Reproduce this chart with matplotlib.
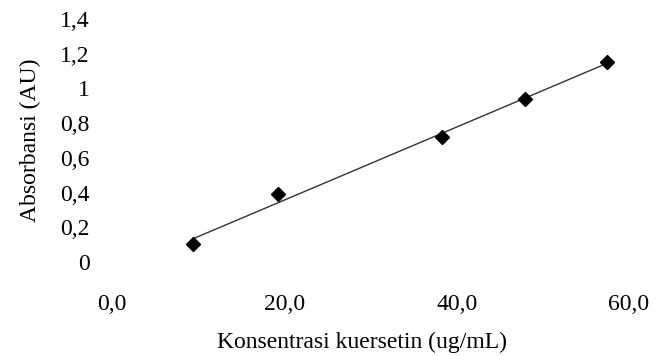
import numpy as np
import matplotlib
matplotlib.use("Agg")
import matplotlib.pyplot as plt

# Data
konsentrasi = [9.4, 19.3, 38.3, 47.9, 57.5]  # ug/mL
absorbansi = [0.105, 0.39, 0.72, 0.94, 1.152]  # AU

x_ticks = [0, 20, 40, 60]
x_tick_labels = ["0,0", "20,0", "40,0", "60,0"]
y_ticks = [0, 0.2, 0.4, 0.6, 0.8, 1.0, 1.2, 1.4]
y_tick_labels = ["0", "0,2", "0,4", "0,6", "0,8", "1", "1,2", "1,4"]

plt.rcParams["font.family"] = ["Liberation Serif", "DejaVu Serif"]

fig = plt.figure(figsize=(6.56, 3.56), dpi=100)
ax = fig.add_axes([112 / 656, 1 - 262 / 356, 517 / 656, 243 / 356])

# Linear trendline over the data range
slope, intercept = np.polyfit(konsentrasi, absorbansi, 1)
x_fit = np.array([min(konsentrasi), max(konsentrasi)])
ax.plot(x_fit, slope * x_fit + intercept, color="#333333", linewidth=1.0, zorder=2)

ax.plot(konsentrasi, absorbansi, linestyle="none", marker="D", markersize=7.5,
        color="black", zorder=3, clip_on=False)

ax.set_xlim(0, 60)
ax.set_ylim(0, 1.4)
ax.set_xticks(x_ticks)
ax.set_xticklabels(x_tick_labels)
ax.set_yticks(y_ticks)
ax.set_yticklabels(y_tick_labels)
ax.tick_params(axis="both", length=0, labelsize=17, colors="black")
ax.tick_params(axis="x", pad=23)
ax.tick_params(axis="y", pad=16)

for spine in ax.spines.values():
    spine.set_visible(False)
ax.set_facecolor("none")

ax.set_xlabel("Konsentrasi kuersetin (ug/mL)", fontsize=17)
ax.xaxis.set_label_coords((362 - 112) / 517, -(342 - 262) / 243)
ax.xaxis.label.set_va("center")
ax.set_ylabel("Absorbansi (AU)", fontsize=17)
ax.yaxis.set_label_coords((30 - 112) / 517, 0.5)
ax.yaxis.label.set_va("center")

fig.savefig("out.png", dpi=100)
